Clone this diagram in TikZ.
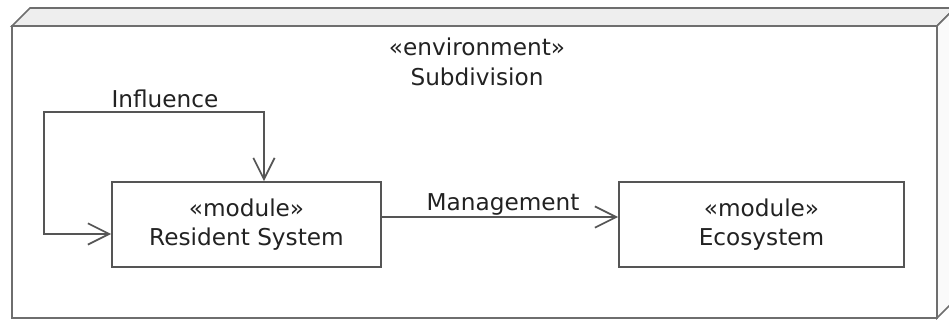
\documentclass[tikz,border=0pt]{standalone}
\usepackage{fontspec}
\setmainfont{DejaVu Sans}
\usetikzlibrary{arrows.meta}
\definecolor{edge}{HTML}{555555}
\definecolor{frame}{HTML}{6E6E6E}
\definecolor{topface}{HTML}{EEEEEE}
\definecolor{sideface}{HTML}{FAFAFA}
\definecolor{ink}{HTML}{222222}
\newcommand{\umlfont}{\fontsize{17.4}{22.2}\selectfont}
\tikzset{
  module/.style={draw=edge, line width=1.3pt, fill=white, minimum width=201.75pt,
    minimum height=63.75pt, align=center, text=ink, font=\umlfont},
  lbl/.style={text=ink, font=\umlfont, inner sep=0pt},
  dep/.style={draw=edge, line width=1.3pt},
}
\begin{document}
\begin{tikzpicture}[x=0.75pt, y=-0.75pt, >={Straight Barb[length=16pt,width=16pt]}]
\useasboundingbox (0,0) rectangle (949,320);
% the environment node
\filldraw[fill=topface, draw=frame, line width=1.3pt] (12,26) -- (30,8) -- (955,8) -- (937,26) -- cycle;
\filldraw[fill=sideface, draw=frame, line width=1.3pt] (937,26) -- (955,8) -- (955,300) -- (937,318) -- cycle;
\draw[frame, line width=1.3pt] (12,26) rectangle (937,318);
\node[lbl, align=center] (title) at (477,62) {«environment»\\Subdivision};
% modules
\node[module] (rs) at (246.5,224.5) {«module»\\Resident System};
\node[module, minimum width=213.75pt] (eco) at (761.5,224.5) {«module»\\Ecosystem};
% dependencies
\coordinate (bend) at (44,112);
\draw[dep, <->] ([xshift=13.1pt]rs.north) |- (bend) |- ([yshift=-7.1pt]rs.west);
\node[lbl] (infl) at (165,99) {Influence};
\draw[dep, ->] ([yshift=5.6pt]rs.east) -- ([yshift=5.6pt]eco.west)
  node[lbl, midway, above=0.5pt, xshift=2.3pt] (mgmt) {Management};
\end{tikzpicture}
\end{document}
